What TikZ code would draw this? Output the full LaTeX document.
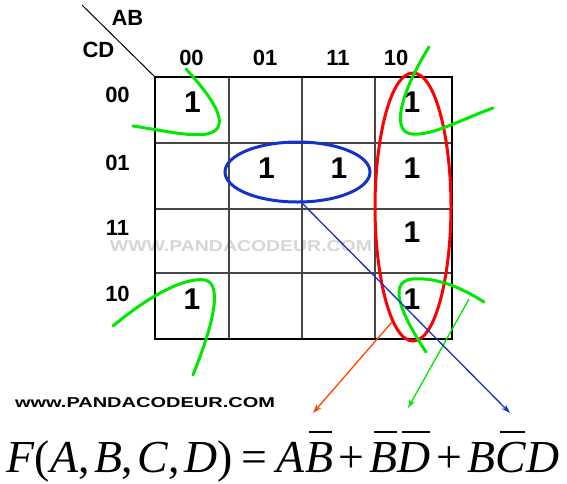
\documentclass[tikz,border=0pt]{standalone}
\usepackage{fontspec}
\setmainfont{Liberation Sans}
\newfontfamily\serif{Liberation Serif}
\usepackage{graphicx}
\usetikzlibrary{arrows.meta}
\definecolor{kgreen}{RGB}{0,232,0}
\definecolor{kred}{RGB}{255,0,0}
\definecolor{kblue}{RGB}{20,50,200}
\definecolor{korange}{RGB}{255,69,0}
\definecolor{kgray}{RGB}{70,70,70}
\definecolor{wmgray}{RGB}{214,214,214}
\newcommand{\ovl}[1]{\setbox0\hbox{#1}\vbox{\offinterlineskip\hbox to \wd0{\kern4pt\leaders\hrule height 1.8pt\hfil\kern1pt}\kern9pt\box0}}
\tikzset{
  lbl/.style={inner sep=0pt, font=\fontsize{22}{25}\selectfont\bfseries},
  one/.style={inner sep=0pt, font=\fontsize{30}{34}\selectfont\bfseries},
  gline/.style={kgray, line width=1.6pt},
  oline/.style={black, line width=2.2pt},
  loop/.style={kgreen, line width=3pt, line cap=round},
  arr/.style={line width=1.3pt, -{Stealth[length=9pt,width=6pt]}}
}
\begin{document}
\begin{tikzpicture}[x=1pt,y=-1pt]
\useasboundingbox (0,0) rectangle (567,483);
% watermark
\node[inner sep=0pt, text=wmgray, anchor=base] (wm) at (241,251) {\resizebox{262pt}{11pt}{\bfseries WWW.PANDACODEUR.COM}};
% grid
\foreach \x in {229,302,375} \draw[gline] (\x,77) -- (\x,339);
\foreach \y in {143,209,273} \draw[gline] (155,\y) -- (452,\y);
\draw[oline] (155,77) rectangle (452,339);
\draw[black, line width=1pt] (82,5) -- (155,77);
% header labels
\node[lbl] (ab) at (127.5,17.5) {AB};
\node[lbl] (cd) at (98.5,50) {CD};
\node[lbl] (c00) at (191.5,58) {00};
\node[lbl] (c01) at (265,58) {01};
\node[lbl] (c11) at (338,58) {11};
\node[lbl] (c10) at (396,58) {10};
\node[lbl] (r00) at (117.5,95) {00};
\node[lbl] (r01) at (117.5,163) {01};
\node[lbl] (r11) at (117.5,228) {11};
\node[lbl] (r10) at (117.5,294) {10};
% ones
\node[one] (m0) at (192.5,102.5) {1};
\node[one] (m8) at (412,102.5) {1};
\node[one] (m5) at (266.5,168.5) {1};
\node[one] (m13) at (339,168.5) {1};
\node[one] (m9) at (412,168.5) {1};
\node[one] (m11) at (412,232) {1};
\node[one] (m2) at (192,299.5) {1};
\node[one] (m10) at (412,299.5) {1};
% red group
\draw[kred, line width=3pt] (413,73) .. controls (436,73) and (451,140) .. (451,207)
  .. controls (451,274) and (436,341) .. (413,341)
  .. controls (390,341) and (375,274) .. (375,207)
  .. controls (375,140) and (390,73) .. (413,73) -- cycle;
% blue group
\draw[kblue, line width=3pt] (297.5,172) ellipse [x radius=72.5, y radius=30];
% green loops
\draw[loop] (186,69) .. controls (210,95) and (235,128) .. (207,134) .. controls (190,137) and (160,130) .. (133,126);
\draw[loop] (429,47) .. controls (405,85) and (388,132) .. (412,134) .. controls (432,136) and (460,120) .. (493,108);
\draw[loop] (113,326) .. controls (150,295) and (185,277) .. (205,280) .. controls (222,284) and (215,320) .. (193,375);
\draw[loop] (426,352) .. controls (405,320) and (385,282) .. (412,279) .. controls (440,277) and (465,290) .. (484,302);
% arrows
\coordinate (ra) at (392,322); \coordinate (rb) at (313,413);
\coordinate (ga) at (469,299); \coordinate (gb) at (408,408);
\coordinate (ba) at (300,201); \coordinate (bb) at (510,413);
\draw[arr, korange] (ra) -- (rb);
\draw[arr, kgreen] (ga) -- (gb);
\draw[arr, kblue] (ba) -- (bb);
% bottom text
\node[inner sep=0pt, anchor=base] (site) at (145,407) {\resizebox{260pt}{10pt}{\bfseries www.PANDACODEUR.COM}};
% formula
\node[inner sep=0pt, anchor=base] (f) at (283,472) {\resizebox{553pt}{!}{\serif\fontsize{46}{50}\selectfont
  \textit{F}(\textit{A},\hspace{0.1em}\textit{B},\hspace{0.1em}\textit{C},\hspace{0.1em}\textit{D})\hspace{0.2em}=\hspace{0.2em}\textit{A}\ovl{\textit{B}}\hspace{0.12em}+\hspace{0.12em}\ovl{\textit{B}}\ovl{\textit{D}}\hspace{0.12em}+\hspace{0.12em}\textit{B}\ovl{\textit{C}}\textit{D}}};
\end{tikzpicture}
\end{document}
